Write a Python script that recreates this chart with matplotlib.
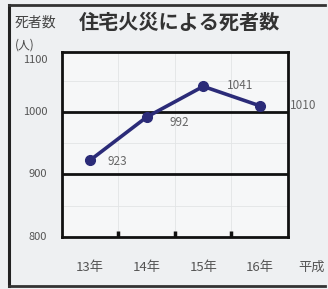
import matplotlib
matplotlib.use('Agg')
import matplotlib.pyplot as plt
from matplotlib.lines import Line2D

plt.rcParams['font.family'] = ['Noto Sans CJK JP', 'DejaVu Sans']

# 平成13年〜16年の住宅火災による死者数
years = ['13年', '14年', '15年', '16年']
deaths = [923, 992, 1041, 1010]
yticks = [800, 900, 1000, 1100]

fig = plt.figure(figsize=(3.28, 2.89), dpi=100)
fig.patch.set_facecolor('#eef0f2')

# 外枠
fig.add_artist(Line2D([0.028, 0.028], [0.01, 0.983], color='#222222', lw=2.2))
fig.add_artist(Line2D([0.028, 0.99], [0.983, 0.983], color='#333333', lw=2))
fig.add_artist(Line2D([0.028, 0.99], [0.012, 0.012], color='#333333', lw=2))

ax = fig.add_axes([0.189, 0.180, 0.689, 0.640])
ax.set_facecolor('#f6f7f8')
x = list(range(len(years)))
ax.plot(x, deaths, color='#2b2b78', lw=2.6, marker='o', markersize=7, zorder=3)

ax.set_xlim(-0.5, 3.5)
ax.set_ylim(800, 1096)

# 横線
for v in [900, 1000]:
    ax.axhline(v, color='#111111', lw=2, zorder=2)
for v in [850, 950, 1050]:
    ax.axhline(v, color='#e2e4e6', lw=0.6, zorder=1)
for v in [0.5, 1.5, 2.5]:
    ax.axvline(v, color='#e2e4e6', lw=0.6, zorder=1)

for s in ax.spines.values():
    s.set_linewidth(2)
    s.set_color('#111111')

ax.set_xticks([0.5, 1.5, 2.5])
ax.set_xticklabels([])
ax.tick_params(axis='x', direction='in', length=4, width=2.5, color='#111111')
ax.set_yticks([])

# 目盛ラベル
for v in yticks:
    yy = v - 17 if v == 1100 else v
    ax.text(-0.76, yy, str(v), ha='right', va='center', fontsize=8,
            color='#555555', clip_on=False)
for i, lab in enumerate(years):
    ax.text(i, 751, lab, ha='center', va='center', fontsize=9.5,
            color='#555555', clip_on=False)
ax.text(3.92, 751, '平成', ha='center', va='center', fontsize=9.5,
        color='#555555', clip_on=False)

# データラベル
offsets = [(0.48, -3), (0.58, -8), (0.65, 2), (0.77, 1)]
for i, v in enumerate(deaths):
    dx, dy = offsets[i]
    ax.text(i + dx, v + dy, str(v), ha='center', va='center', fontsize=8.5,
            color='#666666', clip_on=False)

fig.text(0.045, 0.922, '死者数', fontsize=10, color='#444444', va='center')
fig.text(0.045, 0.845, '(人)', fontsize=8.5, color='#444444', va='center')
fig.text(0.24, 0.922, '住宅火災による死者数', fontsize=14.5, color='#333333',
         va='center', fontweight='bold')

fig.savefig('out.png', dpi=100, facecolor=fig.get_facecolor())
